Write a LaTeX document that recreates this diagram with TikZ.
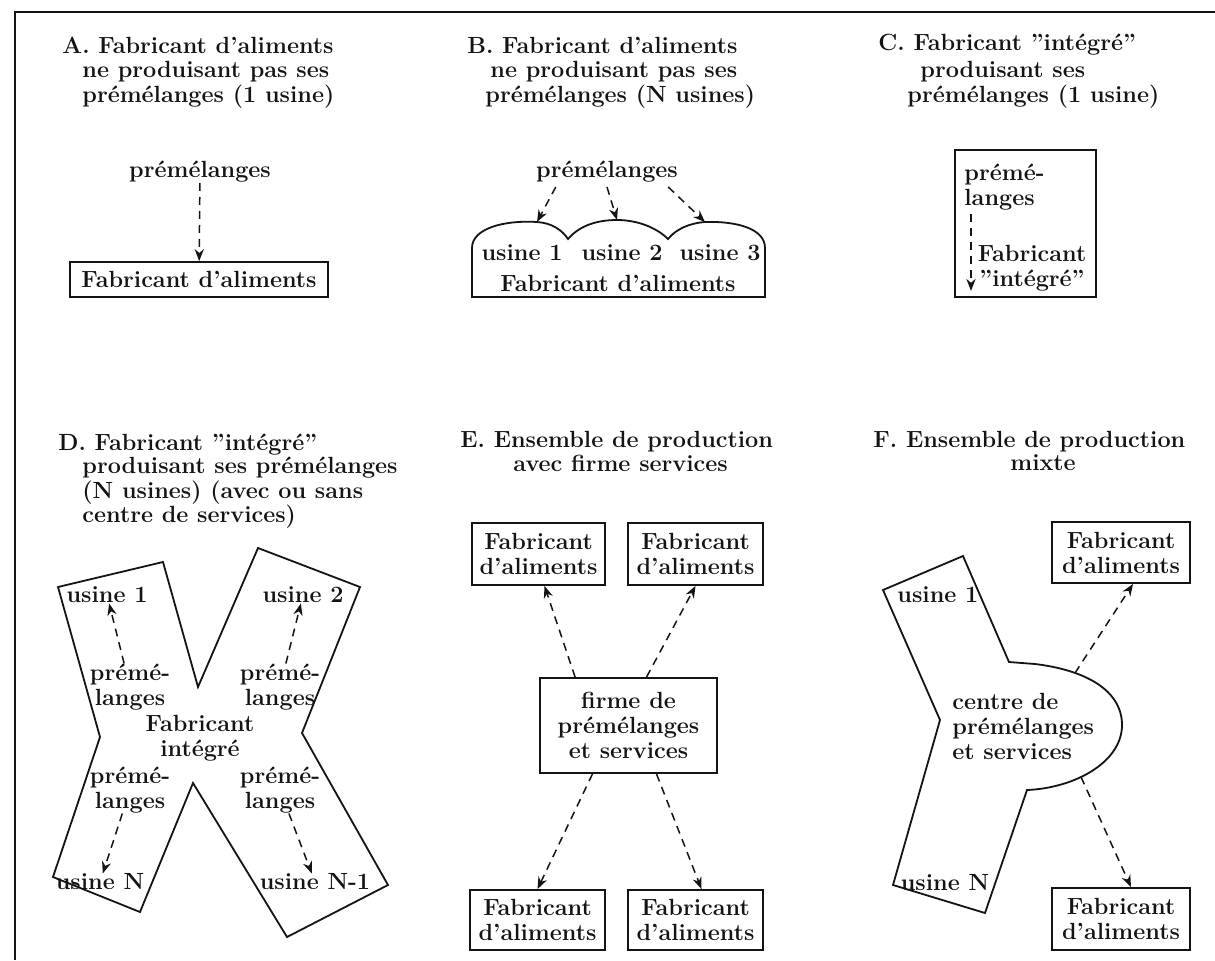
\documentclass[tikz,border=0pt]{standalone}
\usepackage{fontspec}
\usepackage{tikz}
\usetikzlibrary{arrows.meta, positioning, calc}
\definecolor{ink}{RGB}{20,20,20}
\newcommand{\dfont}{\fontsize{11.7}{12.5}\selectfont\bfseries}
\tikzset{
  ttl/.style={anchor=west, inner sep=0pt, font=\dfont, text=ink},
  lbl/.style={inner sep=0pt, align=center, font=\dfont, text=ink},
  box/.style={rectangle, draw=ink, line width=0.9pt, align=center,
    inner sep=0pt, font=\dfont, text=ink},
  outline/.style={draw=ink, line width=0.9pt, line join=miter},
  arr/.style={-{Stealth[length=6pt,width=4.6pt]}, draw=ink, line width=0.75pt,
    dash pattern=on 4pt off 3pt}
}
\begin{document}
\begin{tikzpicture}[x=0.5pt, y=0.5pt]
  \useasboundingbox (0,0) rectangle (1215,-960);
  \fill[white] (0,0) rectangle (1215,-960);
  % frame
  \draw[ink, line width=0.8pt] (15,-960) -- (15,-12) -- (1215,-12);

  % A
  \node[ttl] (tA1) at (62,-45) {A. Fabricant d'aliments};
  \node[ttl] (tA2) at (82,-72) {ne produisant pas ses};
  \node[ttl] (tA3) at (82,-97) {prémélanges (1 usine)};
  \node[lbl] (premA) at (200,-172) {prémélanges};
  \node[box, minimum width=129pt, minimum height=17.5pt] (boxA) at (199,-279.5) {Fabricant d'aliments};
  \draw[arr] (premA) -- (boxA);

  % B
  \node[ttl] (tB1) at (467,-45) {B. Fabricant d'aliments};
  \node[ttl] (tB2) at (490,-72) {ne produisant pas ses};
  \node[ttl] (tB3) at (485,-97) {prémélanges (N usines)};
  \node[lbl] (premB) at (607,-172) {prémélanges};
  \draw[outline] (472,-297) -- (472,-248)
    .. controls (472,-228) and (505,-220) .. (537,-222)
    .. controls (552,-223) and (562,-230) .. (568,-239)
    .. controls (580,-225) and (598,-220) .. (617,-220)
    .. controls (638,-220) and (657,-228) .. (668,-239)
    .. controls (676,-229) and (690,-223) .. (705,-222)
    .. controls (735,-221) and (765,-228) .. (765,-248)
    -- (765,-297) -- cycle;
  \coordinate (b1) at (537,-222);
  \coordinate (b2) at (617,-220);
  \coordinate (b3) at (705,-222);
  \node[lbl] (uB1) at (522,-253) {usine 1};
  \node[lbl] (uB2) at (622,-253) {usine 2};
  \node[lbl] (uB3) at (720,-253) {usine 3};
  \node[lbl] (fabB) at (618,-283) {Fabricant d'aliments};
  \draw[arr] ([xshift=10pt,yshift=-2pt]premB.south west) -- (b1);
  \draw[arr] ([yshift=-2pt]premB.south) -- (b2);
  \draw[arr] ([xshift=-5pt,yshift=-2pt]premB.south east) -- (b3);

  % C
  \node[ttl] (tC1) at (878,-45) {C. Fabricant "intégré"};
  \node[ttl] (tC2) at (920,-72) {produisant ses};
  \node[ttl] (tC3) at (907,-97) {prémélanges (1 usine)};
  \node[box, minimum width=70.5pt, minimum height=73.5pt] (boxC) at (1025.5,-223.5) {};
  \node[lbl, anchor=west, align=left] (pC) at (964,-187) {prémé-\\langes};
  \node[lbl] (fC) at (1032,-268.5) {Fabricant\\"intégré"};
  \draw[arr, shorten >=3.5pt] ([xshift=3.5pt,yshift=-2pt]pC.south west) -- ([xshift=3.5pt]pC.south west |- boxC.south);

  % D
  \node[ttl] (tD1) at (58,-445) {D. Fabricant "intégré"};
  \node[ttl] (tD2) at (82,-468) {produisant ses prémélanges};
  \node[ttl] (tD3) at (82,-493) {(N usines) (avec ou sans};
  \node[ttl] (tD4) at (82,-517) {centre de services)};
  \draw[outline] (58,-587) -- (163,-562) -- (198,-687) -- (258,-548) -- (360,-587)
    -- (302,-733) -- (388,-885) -- (287,-937) -- (193,-783) -- (140,-912)
    -- (53,-877) -- (100,-737) -- cycle;
  \node[lbl] (uD1) at (107,-595) {usine 1};
  \node[lbl] (uD2) at (303,-595) {usine 2};
  \node[lbl] (uD3) at (100,-882) {usine N};
  \node[lbl] (uD4) at (315,-882) {usine N-1};
  \node[lbl] (pD1) at (130,-687) {prémé-\\langes};
  \node[lbl] (pD2) at (280,-687) {prémé-\\langes};
  \node[lbl] (pD3) at (130,-790) {prémé-\\langes};
  \node[lbl] (pD4) at (280,-790) {prémé-\\langes};
  \node[lbl] (fD) at (200,-738) {Fabricant\\intégré};
  \draw[arr] (pD1) -- (uD1);
  \draw[arr] (pD2) -- (uD2);
  \draw[arr] (pD3) -- (uD3);
  \draw[arr] (pD4) -- (uD4);

  % E
  \node[ttl] (tE1) at (460,-442) {E. Ensemble de production};
  \node[ttl] (tE2) at (513,-463) {avec firme services};
  \node[box, minimum width=66.5pt, minimum height=31pt] (e1) at (538.5,-554) {Fabricant\\d'aliments};
  \node[box, minimum width=67.5pt, minimum height=31pt] (e2) at (695.5,-554) {Fabricant\\d'aliments};
  \node[box, minimum width=88.5pt, minimum height=47.5pt] (ec) at (628.5,-725.5) {firme de\\prémélanges\\et services};
  \node[box, minimum width=67.5pt, minimum height=30pt] (e3) at (537.5,-920) {Fabricant\\d'aliments};
  \node[box, minimum width=67.5pt, minimum height=30pt] (e4) at (695.5,-920) {Fabricant\\d'aliments};
  \draw[arr] ([xshift=18pt]ec.north west) -- ([xshift=3pt]e1.south);
  \draw[arr] ([xshift=9pt]ec.north) -- (e2.south);
  \draw[arr] ([xshift=-18pt]ec.south) -- (e3.north);
  \draw[arr] ([xshift=14pt]ec.south) -- ([xshift=3pt]e4.north);

  % F
  \node[ttl] (tF1) at (873,-442) {F. Ensemble de production};
  \node[lbl] (tF2) at (1043,-463) {mixte};
  \draw[outline] (883,-590) -- (963,-556) -- (1009,-662) -- (1035,-664)
    .. controls (1085,-670) and (1122,-690) .. (1122,-725)
    .. controls (1122,-762) and (1075,-788) .. (1027,-790)
    -- (985,-913) -- (893,-885) -- (940,-720) -- cycle;
  \coordinate (fa) at (1075,-673);
  \coordinate (fb) at (1081,-777);
  \node[ttl] (uF1) at (897,-595) {usine 1};
  \node[lbl] (uF2) at (945,-883) {usine N};
  \node[lbl, anchor=west, align=left] (fc) at (952,-726) {centre de\\prémélanges\\et services};
  \node[box, minimum width=69pt, minimum height=30.5pt] (f1) at (1121,-552.5) {Fabricant\\d'aliments};
  \node[box, minimum width=69pt, minimum height=31pt] (f2) at (1121,-919) {Fabricant\\d'aliments};
  \draw[arr] (fa) -- ([xshift=6pt]f1.south);
  \draw[arr] (fb) -- ([xshift=5pt]f2.north);
\end{tikzpicture}
\end{document}
